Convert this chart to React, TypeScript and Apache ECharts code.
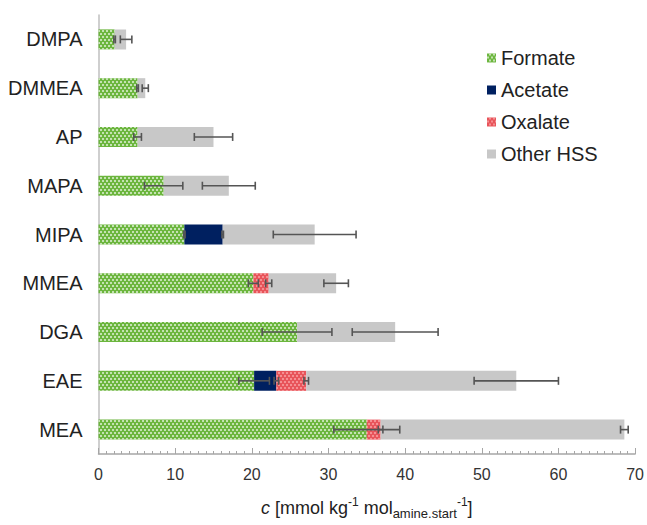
import React, { useEffect, useRef } from "react";
import * as echarts from "echarts";

const categories = ["DMPA", "DMMEA", "AP", "MAPA", "MIPA", "MMEA", "DGA", "EAE", "MEA"];
const formate = [2.1, 5.1, 5.1, 8.5, 11.2, 20.2, 25.9, 20.3, 35.0];
const acetate = [0, 0, 0, 0, 5.0, 0, 0, 2.9, 0];
const oxalate = [0, 0, 0, 0, 0, 2.0, 0, 3.9, 1.8];
const otherHSS = [1.5, 1.0, 9.9, 8.5, 12.0, 8.8, 12.8, 27.4, 31.8];

const formateErr = [0.1, 0.1, 0.5, 2.5, 0.1, 0.65, 4.55, 2.0, 4.3];
const acetateErr = [0, 0, 0, 0, 0.1, 0, 0, 0.3, 0];
const oxalateErr = [0, 0, 0, 0, 0, 0.4, 0, 0.3, 0.3];
const otherErr = [0.75, 0.4, 2.5, 3.45, 5.4, 1.6, 5.6, 5.5, 0.5];

const xTicks = { min: 0, max: 70, interval: 10 };

const FONT = "Liberation Sans, Arial, sans-serif";

export default function App() {
  const ref = useRef<HTMLDivElement>(null);

  useEffect(() => {
    if (!ref.current) return;
    const chart = echarts.init(ref.current, undefined, { renderer: "svg" });

    const segs = [
      { vals: formate, errs: formateErr },
      { vals: acetate, errs: acetateErr },
      { vals: oxalate, errs: oxalateErr },
      { vals: otherHSS, errs: otherErr },
    ];
    const errData: number[][] = [];
    categories.forEach((_, i) => {
      let cum = 0;
      segs.forEach((s) => {
        const v = s.vals[i];
        cum += v;
        if (v > 0 && s.errs[i] > 0) errData.push([cum, i, s.errs[i]]);
      });
    });

    const checker = (color: string) => ({
      symbol: "rect",
      symbolSize: 1,
      dashArrayX: [
        [2, 2],
        [0, 2, 2, 0],
      ],
      dashArrayY: [2, 0.001],
      color,
      rotation: 0,
    });

    chart.setOption({
      animation: false,
      textStyle: { fontFamily: FONT },
      legend: {
        orient: "vertical",
        left: 487,
        top: 48,
        padding: 0,
        itemWidth: 9,
        itemHeight: 9,
        itemGap: 12,
        data: ["Formate", "Acetate", "Oxalate", "Other HSS"],
        textStyle: { fontSize: 20, color: "#222", fontFamily: FONT },
        icon: "rect",
      },
      grid: { left: 98.5, right: 10.5, top: 15, bottom: 59, containLabel: false },
      xAxis: {
        type: "value",
        min: xTicks.min,
        max: xTicks.max,
        interval: xTicks.interval,
        axisLine: { show: true, lineStyle: { color: "#a6a6a6", width: 1.5 } },
        axisTick: { show: true, inside: true, length: 6, lineStyle: { color: "#a6a6a6" } },
        minorTick: { show: true, splitNumber: 10, length: 3, lineStyle: { color: "#a6a6a6" } },
        splitLine: { show: false },
        axisLabel: { fontSize: 16, color: "#333", margin: 12, fontFamily: FONT },
        name: "{i|c} [mmol kg{sup|-1} mol{sub|amine.start}{sup|-1}]",
        nameLocation: "middle",
        nameGap: 42,
        nameTextStyle: {
          fontSize: 18,
          color: "#222",
          fontFamily: FONT,
          lineHeight: 24,
          rich: {
            i: { fontStyle: "italic", fontSize: 18, fontFamily: FONT, color: "#222", lineHeight: 24 },
            sup: { fontSize: 12, lineHeight: 16, verticalAlign: "top", fontFamily: FONT, color: "#222" },
            sub: { fontSize: 13, lineHeight: 13, verticalAlign: "bottom", fontFamily: FONT, color: "#222" },
          },
        },
      },
      yAxis: {
        type: "category",
        data: categories,
        inverse: true,
        axisLine: { show: true, lineStyle: { color: "#bfbfbf", width: 1.5 } },
        axisTick: { show: false },
        axisLabel: { fontSize: 20, color: "#222", margin: 16, fontFamily: FONT },
      },
      series: [
        {
          name: "Formate",
          type: "bar",
          stack: "t",
          barWidth: 20,
          data: formate,
          itemStyle: { color: "#6cb63e", decal: checker("rgba(255,255,255,0.6)") },
        },
        {
          name: "Acetate",
          type: "bar",
          stack: "t",
          barWidth: 20,
          data: acetate,
          itemStyle: { color: "#002060" },
        },
        {
          name: "Oxalate",
          type: "bar",
          stack: "t",
          barWidth: 20,
          data: oxalate,
          itemStyle: { color: "#e8545a", decal: checker("rgba(255,190,190,0.55)") },
        },
        {
          name: "Other HSS",
          type: "bar",
          stack: "t",
          barWidth: 20,
          data: otherHSS,
          itemStyle: { color: "#c8c8c8" },
        },
        {
          name: "err",
          type: "custom",
          z: 10,
          data: errData,
          encode: { x: 0, y: 1 },
          renderItem: (params: any, api: any) => {
            const x = api.value(0);
            const y = api.value(1);
            const e = api.value(2);
            const p1 = api.coord([x - e, y]);
            const p2 = api.coord([x + e, y]);
            const h = 4;
            const style = { stroke: "#555", lineWidth: 1.6, fill: "none" };
            return {
              type: "group",
              children: [
                { type: "line", shape: { x1: p1[0], y1: p1[1], x2: p2[0], y2: p2[1] }, style },
                { type: "line", shape: { x1: p1[0], y1: p1[1] - h, x2: p1[0], y2: p1[1] + h }, style },
                { type: "line", shape: { x1: p2[0], y1: p2[1] - h, x2: p2[0], y2: p2[1] + h }, style },
              ],
            };
          },
        },
      ],
    });

    return () => chart.dispose();
  }, []);

  return <div ref={ref} style={{ width: 647, height: 525, position: "absolute", left: 0, top: 0 }} />;
}
